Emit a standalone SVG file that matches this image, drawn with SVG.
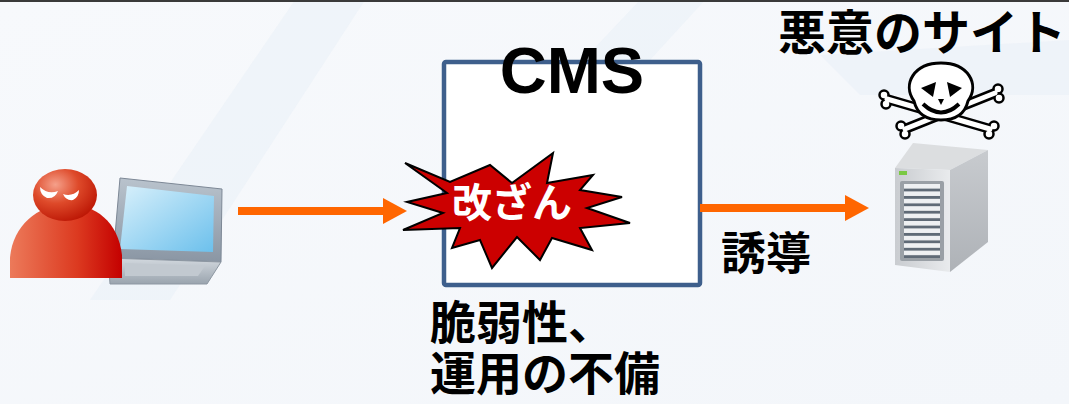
<svg xmlns="http://www.w3.org/2000/svg" width="1069" height="404" viewBox="0 0 1069 404">
  <style>
    .jp { font-family: "Noto Sans CJK JP", "Noto Sans", sans-serif; font-weight: 700; fill: #000; }
    .lat { font-family: "Liberation Sans", Arial, sans-serif; font-weight: 700; fill: #000; }
    .flow { stroke: #ff6600; stroke-width: 8; fill: none; marker-end: url(#head); }
    .bone { stroke: #000; stroke-width: 10; stroke-linecap: round; }
    .bone-in { stroke: #fff; stroke-width: 5; stroke-linecap: round; }
    .knob { fill: #fff; stroke: #000; stroke-width: 2.5; }
  </style>
  <defs>
    <marker id="head" markerUnits="userSpaceOnUse" markerWidth="24" markerHeight="26" refX="0" refY="13" orient="auto">
      <path d="M0,0 L24,13 L0,26 Z" fill="#ff6600"/>
    </marker>
    <linearGradient id="bg" x1="0" y1="0" x2="1" y2="1">
      <stop offset="0" stop-color="#f7f9fc"/>
      <stop offset="1" stop-color="#f3f6fa"/>
    </linearGradient>
    <linearGradient id="bodyGrad" x1="0" y1="0" x2="1" y2="0">
      <stop offset="0" stop-color="#ec7a5a"/>
      <stop offset="0.6" stop-color="#dc3a20"/>
      <stop offset="1" stop-color="#c40000"/>
    </linearGradient>
    <radialGradient id="headGrad" cx="0.35" cy="0.3" r="0.8">
      <stop offset="0" stop-color="#f5a08a"/>
      <stop offset="0.45" stop-color="#de4a2a"/>
      <stop offset="1" stop-color="#b81000"/>
    </radialGradient>
    <linearGradient id="screenGrad" x1="0" y1="0" x2="1" y2="1">
      <stop offset="0" stop-color="#d8f0fb"/>
      <stop offset="1" stop-color="#6cc0ec"/>
    </linearGradient>
    <linearGradient id="frameGrad" x1="0" y1="0" x2="0" y2="1">
      <stop offset="0" stop-color="#b9c3cd"/>
      <stop offset="1" stop-color="#8a96a4"/>
    </linearGradient>
    <linearGradient id="baseGrad" x1="0" y1="0" x2="0" y2="1">
      <stop offset="0" stop-color="#d3d9df"/>
      <stop offset="1" stop-color="#9aa4ae"/>
    </linearGradient>
    <linearGradient id="frontGrad" x1="0" y1="0" x2="1" y2="0">
      <stop offset="0" stop-color="#c9ccd0"/>
      <stop offset="1" stop-color="#e9ebed"/>
    </linearGradient>
    <linearGradient id="sideGrad" x1="0" y1="0" x2="0" y2="1">
      <stop offset="0" stop-color="#c8cbcf"/>
      <stop offset="1" stop-color="#aeb2b7"/>
    </linearGradient>
    <pattern id="slats" x="0" y="184" width="10" height="7.4" patternUnits="userSpaceOnUse">
      <rect width="10" height="7.4" fill="#eef0f2"/>
      <rect y="4.6" width="10" height="2.8" fill="#5f6a76"/>
    </pattern>
  </defs>

  <!-- backdrop with faint diagonal bands -->
  <rect width="1069" height="404" fill="url(#bg)"/>
  <polygon points="295,0 365,0 170,300 90,300" fill="#e8eff7" opacity="0.5"/>
  <polygon points="640,0 705,0 540,180 470,180" fill="#e8eff7" opacity="0.5"/>
  <polygon points="820,55 1069,40 1069,95 860,95" fill="#e6eef7" opacity="0.45"/>
  <rect width="1069" height="2" fill="#3a3a3a"/>

  <!-- attacker with laptop -->
  <g id="attacker">
    <polygon points="120,178 222,189 221,262 113,258" fill="url(#frameGrad)" stroke="#7d8896" stroke-width="1"/>
    <polygon points="127,186 214,196 213,252 120,249" fill="url(#screenGrad)"/>
    <polygon points="108,258 221,262 207,284 110,284" fill="url(#baseGrad)" stroke="#8d97a2" stroke-width="1"/>
    <polygon points="125,263 205,266 198,276 125,276" fill="#c2c9d0"/>
    <path d="M10,278 L10,258 C12,228 36,205 66,204 C96,204 118,222 122,255 L122,278 Z" fill="url(#bodyGrad)"/>
    <ellipse cx="65" cy="195" rx="32" ry="26" fill="url(#headGrad)"/>
    <path d="M40,187 Q48,195 58,191 Q55,199 47,198 Q40,195 40,187 Z" fill="#fff"/>
    <path d="M79,190 Q72,197 63,194 Q66,201 73,200 Q79,197 79,190 Z" fill="#fff"/>
  </g>

  <!-- CMS server box with defacement burst -->
  <g id="cms">
    <rect x="444" y="62" width="256" height="223" rx="2" fill="#fff" stroke="#3e5f8c" stroke-width="4.5"/>
    <text class="lat" x="572" y="93" font-size="65" text-anchor="middle">CMS</text>
    <polygon points="405,163 450,182 490,165 512,183 553,153 547,183 593,175 580,190 622,197 587,208 630,223 580,228 592,250 552,238 540,260 517,237 492,268 480,240 452,248 460,228 403,230 443,213 407,202 447,193" fill="#cc0000" stroke="#000" stroke-width="2" stroke-linejoin="miter"/>
    <text class="jp" x="512" y="217" font-size="40" text-anchor="middle" style="fill:#fff">改ざん</text>
    <text class="jp" font-size="46"><tspan x="430" y="339">脆弱性、</tspan><tspan x="430" y="390">運用の不備</tspan></text>
  </g>

  <!-- malicious site: label, skull, server -->
  <g id="malicious-site">
    <text class="jp" x="778" y="50" font-size="48">悪意のサイト</text>
    <g id="skull">
      <line class="bone" x1="887" y1="99" x2="990" y2="129"/>
      <line class="bone" x1="995" y1="93" x2="905" y2="129"/>
      <circle class="knob" cx="884" cy="95" r="4.5"/>
      <circle class="knob" cx="886" cy="104" r="4.5"/>
      <circle class="knob" cx="994" cy="126" r="4.5"/>
      <circle class="knob" cx="989" cy="134" r="4.5"/>
      <circle class="knob" cx="998" cy="89" r="4.5"/>
      <circle class="knob" cx="999" cy="98" r="4.5"/>
      <circle class="knob" cx="901" cy="126" r="4.5"/>
      <circle class="knob" cx="905" cy="134" r="4.5"/>
      <line class="bone-in" x1="887" y1="99" x2="990" y2="129"/>
      <line class="bone-in" x1="995" y1="93" x2="905" y2="129"/>
      <path d="M914,101 C902,84 914,63 941,63 C968,63 980,84 968,101 C965,114 955,120 941,120 C927,120 917,114 914,101 Z" fill="#fff" stroke="#000" stroke-width="3"/>
      <polygon points="921,88 936,82 933,97" fill="#000"/>
      <polygon points="962,88 947,82 950,97" fill="#000"/>
      <polygon points="938,99 944,99 941,105" fill="#000"/>
      <path d="M923,104 Q941,121 959,104" fill="none" stroke="#000" stroke-width="4"/>
    </g>
    <g id="server">
      <polygon points="895,168 913,143 988,150 950,170" fill="#dcdee0"/>
      <polygon points="950,170 988,150 988,242 950,272" fill="url(#sideGrad)"/>
      <polygon points="895,168 950,170 950,272 895,265" fill="url(#frontGrad)"/>
      <rect x="899" y="171" width="8" height="4" fill="#7ac943"/>
      <rect x="900" y="181" width="44" height="80" rx="2" fill="#9aa0a6"/>
      <rect x="904" y="184" width="36" height="74" fill="url(#slats)"/>
    </g>
  </g>

  <!-- request flow -->
  <g id="connectors">
    <line class="flow" x1="238" y1="211" x2="383" y2="211"/>
    <line class="flow" x1="700" y1="208" x2="845" y2="208"/>
    <text class="jp" x="721" y="270" font-size="45">誘導</text>
  </g>
</svg>
